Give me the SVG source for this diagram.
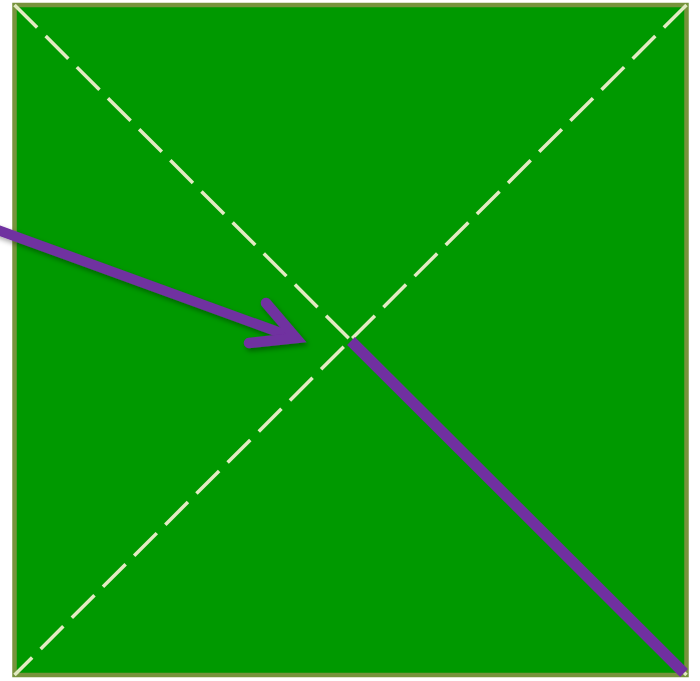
<svg xmlns="http://www.w3.org/2000/svg" width="700" height="681" viewBox="0 0 700 681">
  <defs>
    <style>
      .sq { fill: #009900; stroke: #77933c; stroke-width: 4.5; }
      .diag { stroke: #e2eac2; stroke-width: 3.5; stroke-dasharray: 32 12; fill: none; }
      .purple { stroke: #7030a0; fill: none; }
    </style>
    <filter id="sh" x="-10%" y="-20%" width="130%" height="160%">
      <feDropShadow dx="2" dy="3" stdDeviation="2.5" flood-color="#000" flood-opacity="0.35"/>
    </filter>
  </defs>
  <rect width="700" height="681" fill="#ffffff"/>
  <g id="square">
    <rect class="sq" x="14.5" y="5" width="672" height="670"/>
  </g>
  <g id="diagonals">
    <line class="diag" x1="14.5" y1="5" x2="686.5" y2="675"/>
    <line class="diag" x1="686.5" y1="5" x2="14.5" y2="675"/>
  </g>
  <g id="connectors">
    <line class="purple" x1="351" y1="341" x2="684" y2="673" stroke-width="11"/>
    <g filter="url(#sh)">
      <line class="purple" x1="-5" y1="229" x2="292" y2="337" stroke-width="10"/>
      <polyline class="purple" points="266,303 296,338 249,343" stroke-width="10.5" stroke-linecap="round" stroke-linejoin="miter"/>
    </g>
  </g>
</svg>
